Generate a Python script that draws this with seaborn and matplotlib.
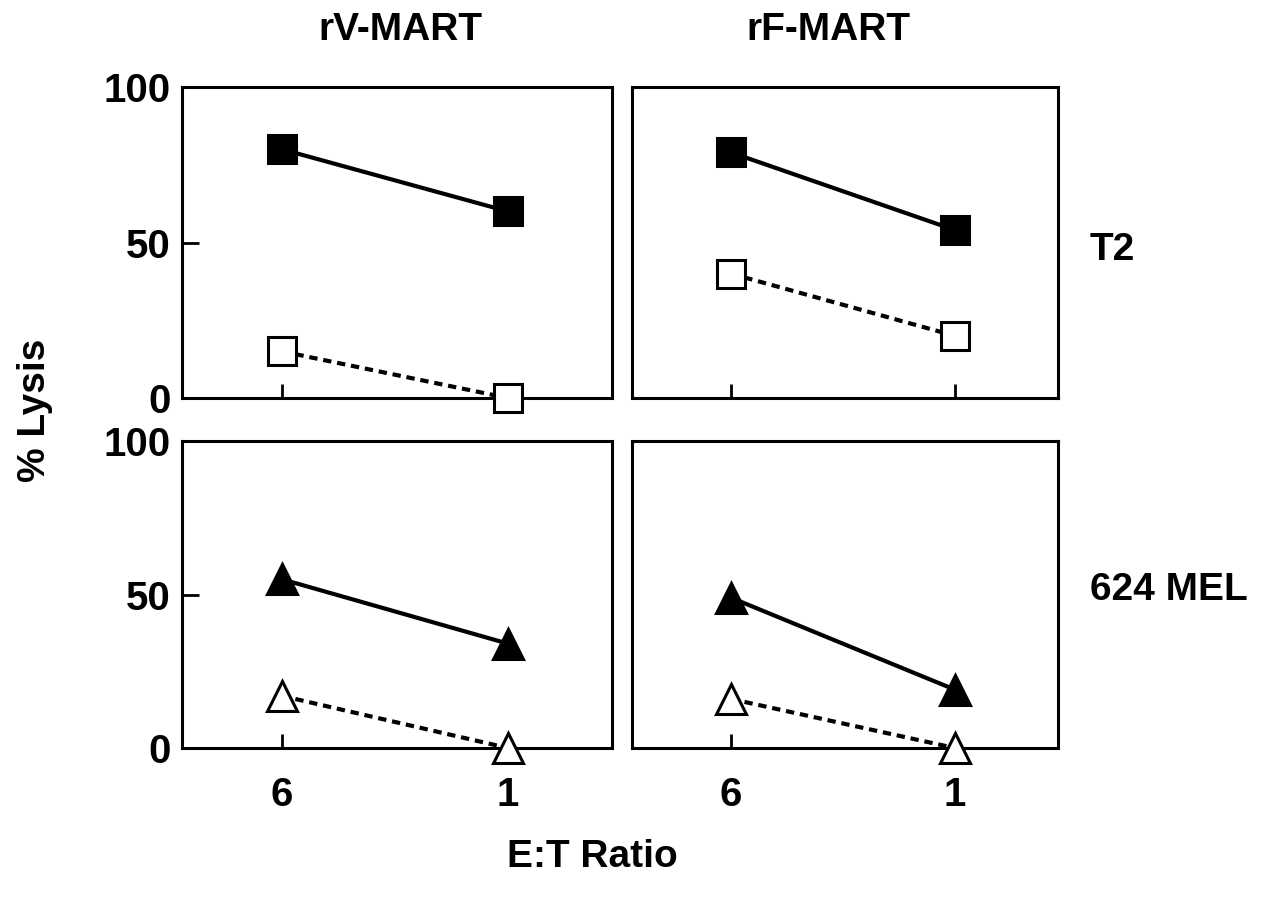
import numpy as np
import pandas as pd
import seaborn as sns
import matplotlib.pyplot as plt

sns.set_theme(style="white")
plt.rcParams['font.family'] = ['Liberation Sans', 'DejaVu Sans']
plt.rcParams['font.weight'] = 'bold'
plt.rcParams['text.color'] = 'black'
plt.rcParams['xtick.color'] = 'black'
plt.rcParams['ytick.color'] = 'black'

# data
ratios = ["6", "1"]
viruses = ["rV-MART", "rF-MART"]
targets = ["T2", "624 MEL"]

t2_rv_filled = [80, 60]
t2_rv_open = [15, 0]
t2_rf_filled = [79, 54]
t2_rf_open = [40, 20]
mel_rv_filled = [55, 34]
mel_rv_open = [17, 0]
mel_rf_filled = [49, 19]
mel_rf_open = [16, 0]

series = {
    ("T2", "rV-MART", "filled"): t2_rv_filled,
    ("T2", "rV-MART", "open"): t2_rv_open,
    ("T2", "rF-MART", "filled"): t2_rf_filled,
    ("T2", "rF-MART", "open"): t2_rf_open,
    ("624 MEL", "rV-MART", "filled"): mel_rv_filled,
    ("624 MEL", "rV-MART", "open"): mel_rv_open,
    ("624 MEL", "rF-MART", "filled"): mel_rf_filled,
    ("624 MEL", "rF-MART", "open"): mel_rf_open,
}
rows = []
for (tgt, vir, kind), vals in series.items():
    for i, v in enumerate(vals):
        rows.append({'target': tgt, 'virus': vir, 'kind': kind,
                     'pos': i, 'ratio': ratios[i], 'lysis': v})
df = pd.DataFrame(rows)

fig = plt.figure(figsize=(12.84, 9), dpi=100)
W, H = 1284, 900
col_x = [(182, 430), (632, 426)]
row_y = [(87, 398), (441, 748)]
marker_of = {"T2": "s", "624 MEL": "^"}
msize = {"s": 20, "^": 22}

for r, tgt in enumerate(targets):
    for c, vir in enumerate(viruses):
        x0, w = col_x[c]
        top, bot = row_y[r]
        ax = fig.add_axes([x0 / W, 1 - bot / H, w / W, (bot - top) / H])
        for kind in ["filled", "open"]:
            sub = df[(df.target == tgt) & (df.virus == vir) & (df.kind == kind)]
            m = marker_of[tgt]
            sns.lineplot(data=sub, x='pos', y='lysis', ax=ax, color='black',
                         linewidth=3.0, marker=m, markersize=msize[m],
                         markerfacecolor='black' if kind == 'filled' else 'white',
                         markeredgecolor='black', markeredgewidth=2.2,
                         linestyle='-' if kind == 'filled' else (0, (2.0, 1.4)),
                         clip_on=False, zorder=5)
        ax.set_xlim(-0.44, 1.46)
        ax.set_ylim(0, 100)
        ax.set_xlabel('')
        ax.set_ylabel('')
        for s in ax.spines.values():
            s.set_linewidth(2.2)
            s.set_color('black')
        ax.set_xticks([0, 1])
        if r == 1:
            ax.set_xticklabels(ratios, fontsize=29, fontweight='bold')
        else:
            ax.set_xticklabels([])
        ax.tick_params(axis='x', direction='in', length=10, width=2,
                       pad=20, bottom=True)
        if c == 0:
            ax.set_yticks([0, 50, 100])
            ax.set_yticklabels(['0', '50', '100'], fontsize=29, fontweight='bold')
            ax.tick_params(axis='y', direction='in', length=12, width=2,
                           pad=8, left=True)
        else:
            ax.set_yticks([])
        ax.set_facecolor('white')
        ax.grid(False)

fig.text(400 / W, 1 - 30 / H, "rV-MART", ha='center', va='center',
         fontsize=28, fontweight='bold')
fig.text(828 / W, 1 - 30 / H, "rF-MART", ha='center', va='center',
         fontsize=28, fontweight='bold')
fig.text(1090 / W, 1 - 250 / H, "T2", ha='left', va='center',
         fontsize=28, fontweight='bold')
fig.text(1090 / W, 1 - 590 / H, "624 MEL", ha='left', va='center',
         fontsize=28, fontweight='bold')
fig.text(35 / W, 1 - 410 / H, "% Lysis", ha='center', va='center',
         rotation=90, fontsize=28, fontweight='bold')
fig.text(592 / W, 1 - 857 / H, "E:T Ratio", ha='center', va='center',
         fontsize=28, fontweight='bold')

fig.savefig('out.png', dpi=100, facecolor='white')
